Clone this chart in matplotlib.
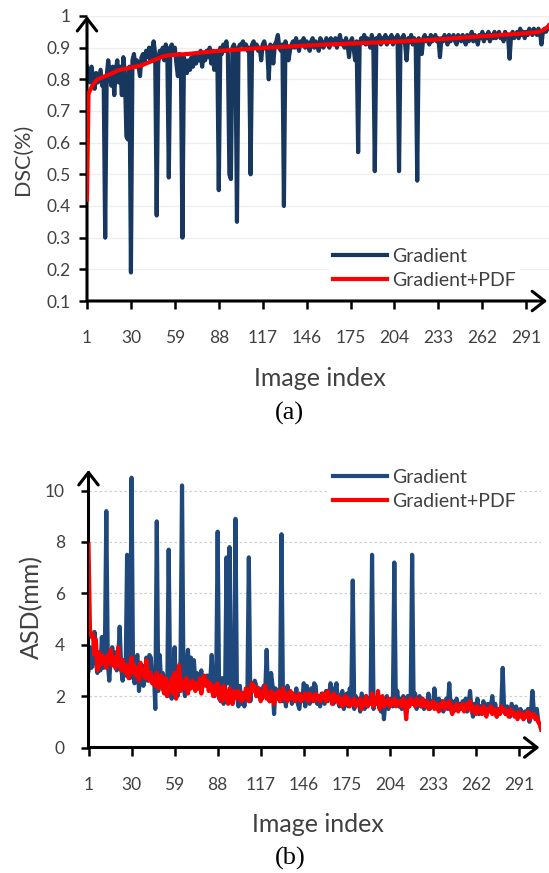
import numpy as np
import matplotlib
matplotlib.use("Agg")
import matplotlib.pyplot as plt

plt.rcParams['font.family'] = ['Lato', 'DejaVu Sans']

# x tick labels shared by both panels
x_ticks = [1, 30, 59, 88, 117, 146, 175, 204, 233, 262, 291]

# (a) DSC per image
dsc_gradient = [
    0.84, 0.82, 0.79, 0.84, 0.80, 0.77, 0.82, 0.79, 0.81, 0.83,
    0.78, 0.80, 0.30, 0.81, 0.86, 0.82, 0.78, 0.84, 0.75, 0.83,
    0.86, 0.79, 0.84, 0.75, 0.87, 0.82, 0.62, 0.61, 0.84, 0.19,
    0.86, 0.88, 0.84, 0.86, 0.84, 0.81, 0.87, 0.88, 0.85, 0.89,
    0.87, 0.90, 0.86, 0.89, 0.92, 0.88, 0.37, 0.85, 0.89, 0.88,
    0.90, 0.86, 0.91, 0.89, 0.49, 0.90, 0.91, 0.88, 0.90, 0.85,
    0.81, 0.88, 0.84, 0.30, 0.87, 0.85, 0.82, 0.86, 0.83, 0.87,
    0.84, 0.88, 0.85, 0.87, 0.86, 0.89, 0.84, 0.88, 0.86, 0.89,
    0.87, 0.90, 0.85, 0.89, 0.83, 0.88, 0.89, 0.45, 0.90, 0.88,
    0.91, 0.89, 0.92, 0.88, 0.50, 0.485, 0.90, 0.91, 0.89, 0.35,
    0.90, 0.91, 0.91, 0.92, 0.90, 0.91, 0.89, 0.90, 0.50, 0.91,
    0.92, 0.90, 0.91, 0.89, 0.90, 0.86, 0.91, 0.92, 0.90, 0.89,
    0.80, 0.91, 0.90, 0.85, 0.91, 0.92, 0.94, 0.90, 0.89, 0.91,
    0.40, 0.92, 0.90, 0.86, 0.89, 0.91, 0.92, 0.90, 0.93, 0.91,
    0.89, 0.92, 0.91, 0.93, 0.90, 0.92, 0.91, 0.89, 0.92, 0.93,
    0.90, 0.92, 0.91, 0.89, 0.93, 0.92, 0.90, 0.91, 0.93, 0.92,
    0.90, 0.93, 0.92, 0.91, 0.93, 0.90, 0.92, 0.94, 0.91, 0.92,
    0.90, 0.93, 0.91, 0.87, 0.92, 0.93, 0.90, 0.86, 0.92, 0.57,
    0.91, 0.93, 0.92, 0.94, 0.91, 0.93, 0.92, 0.90, 0.94, 0.92,
    0.51, 0.93, 0.92, 0.94, 0.91, 0.93, 0.92, 0.94, 0.91, 0.93,
    0.92, 0.94, 0.91, 0.93, 0.92, 0.94, 0.51, 0.93, 0.92, 0.94,
    0.91, 0.86, 0.93, 0.92, 0.94, 0.91, 0.93, 0.92, 0.48, 0.93,
    0.92, 0.88, 0.93, 0.94, 0.92, 0.93, 0.91, 0.94, 0.92, 0.93,
    0.94, 0.92, 0.93, 0.87, 0.93, 0.92, 0.94, 0.93, 0.91, 0.94,
    0.92, 0.93, 0.94, 0.92, 0.91, 0.94, 0.93, 0.92, 0.94, 0.93,
    0.91, 0.94, 0.92, 0.93, 0.95, 0.92, 0.94, 0.93, 0.91, 0.94,
    0.93, 0.95, 0.92, 0.94, 0.93, 0.95, 0.92, 0.94, 0.93, 0.95,
    0.93, 0.94, 0.95, 0.93, 0.94, 0.92, 0.95, 0.94, 0.93, 0.865,
    0.94, 0.95, 0.93, 0.94, 0.95, 0.93, 0.96, 0.94, 0.95, 0.93,
    0.95, 0.94, 0.96, 0.95, 0.94, 0.96, 0.95, 0.94, 0.96, 0.95,
    0.91, 0.95, 0.96, 0.95, 0.96, 0.97,
]
dsc_gradient_pdf = [
    0.42, 0.755, 0.765, 0.775, 0.783, 0.79, 0.795, 0.80, 0.802, 0.804,
    0.806, 0.808, 0.81, 0.812, 0.814, 0.816, 0.818, 0.82, 0.822, 0.825,
    0.827, 0.829, 0.83, 0.831, 0.832, 0.833, 0.834, 0.835, 0.836, 0.837,
    0.838, 0.839, 0.84, 0.841, 0.842, 0.843, 0.844, 0.846, 0.848, 0.85,
    0.852, 0.854, 0.856, 0.858, 0.86, 0.862, 0.864, 0.866, 0.868, 0.87,
    0.872, 0.873, 0.874, 0.875, 0.876, 0.876, 0.877, 0.877, 0.877, 0.878,
    0.878, 0.878, 0.879, 0.879, 0.879, 0.88, 0.88, 0.88, 0.881, 0.881,
    0.882, 0.882, 0.883, 0.883, 0.884, 0.884, 0.885, 0.885, 0.886, 0.886,
    0.887, 0.887, 0.888, 0.888, 0.889, 0.889, 0.889, 0.89, 0.89, 0.89,
    0.891, 0.891, 0.891, 0.892, 0.892, 0.892, 0.893, 0.893, 0.893, 0.894,
    0.894, 0.894, 0.895, 0.895, 0.895, 0.896, 0.896, 0.896, 0.897, 0.897,
    0.897, 0.898, 0.898, 0.898, 0.899, 0.899, 0.899, 0.90, 0.90, 0.90,
    0.90, 0.901, 0.901, 0.901, 0.901, 0.902, 0.902, 0.902, 0.902, 0.903,
    0.903, 0.903, 0.903, 0.904, 0.904, 0.904, 0.904, 0.905, 0.905, 0.905,
    0.905, 0.906, 0.906, 0.906, 0.906, 0.907, 0.907, 0.907, 0.907, 0.908,
    0.908, 0.908, 0.908, 0.909, 0.909, 0.909, 0.909, 0.91, 0.91, 0.91,
    0.91, 0.91, 0.911, 0.911, 0.911, 0.911, 0.911, 0.912, 0.912, 0.912,
    0.912, 0.912, 0.913, 0.913, 0.913, 0.913, 0.913, 0.914, 0.914, 0.914,
    0.914, 0.914, 0.915, 0.915, 0.915, 0.915, 0.915, 0.916, 0.916, 0.916,
    0.916, 0.916, 0.917, 0.917, 0.917, 0.917, 0.917, 0.918, 0.918, 0.918,
    0.918, 0.918, 0.919, 0.919, 0.919, 0.919, 0.92, 0.92, 0.92, 0.92,
    0.92, 0.921, 0.921, 0.921, 0.921, 0.922, 0.922, 0.922, 0.922, 0.923,
    0.923, 0.923, 0.923, 0.924, 0.924, 0.924, 0.924, 0.925, 0.925, 0.925,
    0.926, 0.926, 0.926, 0.927, 0.927, 0.927, 0.928, 0.928, 0.928, 0.929,
    0.929, 0.929, 0.93, 0.93, 0.93, 0.931, 0.931, 0.931, 0.932, 0.932,
    0.932, 0.933, 0.933, 0.933, 0.934, 0.934, 0.934, 0.935, 0.935, 0.935,
    0.936, 0.936, 0.936, 0.937, 0.937, 0.937, 0.938, 0.938, 0.938, 0.939,
    0.939, 0.939, 0.94, 0.94, 0.94, 0.941, 0.941, 0.941, 0.942, 0.942,
    0.942, 0.943, 0.943, 0.943, 0.944, 0.944, 0.944, 0.945, 0.945, 0.945,
    0.946, 0.946, 0.947, 0.947, 0.948, 0.948, 0.949, 0.95, 0.95, 0.951,
    0.953, 0.955, 0.958, 0.961, 0.965, 0.97,
]

# (b) ASD per image
asd_gradient = [
    3.0, 3.9, 3.1, 3.4, 4.5, 3.3, 2.9, 3.7, 3.0, 4.3,
    3.1, 3.5, 9.2, 3.3, 2.6, 3.5, 3.9, 3.2, 3.7, 3.0,
    3.4, 4.7, 3.1, 2.6, 3.4, 2.8, 7.5, 3.2, 2.7, 10.5,
    3.1, 2.5, 3.5, 3.6, 2.2, 2.9, 3.2, 2.4, 2.7, 3.5,
    2.6, 3.6, 3.5, 2.5, 3.0, 1.5, 8.8, 2.2, 3.6, 2.4,
    2.9, 2.6, 2.2, 2.0, 7.7, 2.5, 1.9, 2.8, 3.9, 2.2,
    2.0, 2.7, 3.4, 10.2, 2.4, 2.0, 3.2, 3.8, 2.3, 3.5,
    2.6, 3.4, 2.5, 2.9, 2.3, 2.7, 3.0, 2.4, 2.6, 2.5,
    2.8, 2.4, 2.6, 3.6, 2.3, 2.0, 2.4, 8.4, 2.0, 1.8,
    2.7, 1.7, 2.2, 7.4, 2.5, 7.8, 1.9, 1.7, 2.3, 8.9,
    2.0, 1.6, 2.4, 1.7, 2.1, 1.6, 2.2, 2.0, 7.4, 1.8,
    2.5, 2.2, 2.6, 2.4, 2.0, 2.3, 2.2, 1.9, 2.4, 2.1,
    3.8, 2.0, 1.8, 2.9, 2.4, 1.3, 2.3, 1.9, 2.1, 1.8,
    8.3, 1.8, 2.2, 1.6, 2.4, 1.9, 2.1, 1.7, 2.0, 1.9,
    2.3, 1.7, 1.5, 2.0, 1.8, 2.5, 1.6, 2.4, 2.0, 1.7,
    2.3, 1.8, 2.5, 2.4, 1.7, 2.0, 1.6, 2.1, 1.9, 1.7,
    2.2, 1.8, 2.0, 2.5, 2.3, 1.7, 2.0, 2.5, 1.8, 1.6,
    2.0, 2.2, 1.5, 1.9, 2.1, 1.6, 2.3, 1.8, 6.5, 1.5,
    2.0, 1.7, 1.9, 1.4, 2.1, 1.8, 1.5, 2.0, 1.6, 1.9,
    1.7, 7.5, 1.5, 1.9, 1.7, 2.0, 1.6, 1.4, 1.9, 1.1,
    1.8, 2.0, 1.5, 1.7, 1.9, 1.6, 7.2, 1.8, 2.2, 1.6,
    1.9, 1.5, 2.0, 1.7, 1.4, 2.0, 1.6, 1.8, 7.5, 1.7,
    2.1, 1.5, 1.8, 2.0, 1.6, 1.9, 1.5, 1.8, 1.7, 2.1,
    1.5, 1.8, 1.6, 2.3, 1.7, 1.5, 1.9, 1.6, 1.8, 1.4,
    1.7, 1.9, 1.5, 2.5, 1.6, 1.8, 1.4, 1.7, 1.9, 1.5,
    1.7, 1.5, 1.8, 1.6, 1.9, 1.4, 1.7, 2.2, 1.5, 1.2,
    1.7, 1.5, 1.9, 1.3, 1.6, 1.4, 1.8, 1.5, 1.3, 1.7,
    1.5, 1.6, 2.0, 1.4, 1.7, 1.2, 1.5, 1.3, 1.6, 3.1,
    1.4, 1.3, 1.6, 1.4, 1.2, 1.7, 1.5, 1.3, 1.6, 1.4,
    1.2, 1.5, 1.3, 1.1, 1.4, 1.2, 1.5, 1.0, 1.3, 2.2,
    1.4, 1.2, 1.5, 1.0, 0.9, 0.7,
]
asd_gradient_pdf = [
    7.9, 4.6, 4.3, 4.4, 3.6, 4.2, 3.0, 3.7, 3.2, 3.6,
    3.3, 3.5, 3.1, 3.6, 3.3, 3.8, 3.2, 3.5, 3.1, 3.4,
    3.9, 3.3, 3.0, 3.4, 3.1, 2.9, 3.2, 2.7, 3.0, 3.5,
    2.9, 3.2, 2.8, 3.1, 2.6, 3.3, 2.9, 3.0, 2.7, 3.4,
    2.8, 2.6, 2.9, 2.5, 2.7, 2.4, 2.9, 2.3, 2.6, 2.8,
    2.3, 2.1, 2.7, 2.0, 2.5, 2.2, 2.7, 2.1, 2.9, 1.9,
    2.6, 3.2, 2.2, 2.6, 2.4, 2.3, 2.7, 2.1, 2.5, 2.3,
    2.6, 2.4, 2.2, 2.5, 2.3, 2.7, 2.1, 2.5, 2.8, 2.4,
    2.6, 2.2, 2.5, 2.3, 2.0, 2.4, 2.1, 2.5, 1.9, 2.3,
    1.8, 2.4, 1.9, 2.2, 1.7, 2.3, 2.0, 1.7, 2.2, 2.0,
    1.9, 2.2, 2.0, 1.8, 2.1, 1.9, 2.3, 2.1, 1.8, 2.2,
    2.5, 2.2, 2.4, 2.0, 2.3, 2.1, 1.8, 2.2, 2.0, 2.4,
    1.9, 2.1, 1.8, 2.2, 2.0, 1.7, 2.1, 1.9, 2.2, 1.8,
    2.0, 2.3, 1.9, 2.1, 1.8, 2.0, 2.2, 1.9, 2.1, 1.8,
    2.0, 1.9, 2.1, 1.8, 2.0, 1.9, 2.1, 2.0, 1.8, 2.1,
    1.9, 2.0, 1.8, 2.1, 1.9, 2.0, 1.8, 2.0, 2.1, 1.9,
    1.8, 2.2, 1.9, 2.0, 1.7, 2.1, 1.9, 1.8, 2.0, 1.7,
    1.9, 1.6, 1.8, 2.0, 1.7, 1.9, 1.6, 1.8, 1.7, 1.9,
    1.6, 1.8, 1.7, 1.9, 1.5, 1.8, 1.7, 2.0, 1.6, 1.8,
    1.7, 2.1, 1.6, 1.9, 1.7, 2.2, 1.5, 1.8, 2.0, 1.6,
    1.8, 1.7, 1.9, 1.6, 1.8, 1.7, 1.9, 1.6, 1.8, 1.7,
    1.8, 1.6, 1.9, 1.7, 1.1, 1.8, 1.6, 1.9, 1.7, 1.8,
    1.6, 1.9, 1.7, 1.8, 1.6, 1.9, 1.7, 1.6, 1.8, 1.5,
    1.7, 1.6, 1.8, 1.5, 1.7, 1.6, 1.4, 1.7, 1.6, 1.8,
    1.5, 1.7, 1.6, 1.8, 1.5, 1.3, 1.6, 1.5, 1.7, 1.4,
    1.6, 1.5, 1.7, 1.4, 1.6, 1.7, 1.5, 1.8, 1.4, 1.6,
    1.5, 1.3, 1.6, 1.4, 1.5, 1.3, 1.6, 1.4, 1.2, 1.5,
    1.4, 1.6, 1.3, 1.5, 1.4, 1.2, 1.5, 1.3, 1.6, 1.4,
    1.5, 1.3, 1.4, 1.2, 1.5, 1.3, 1.4, 1.2, 1.3, 1.1,
    1.4, 1.2, 1.3, 1.1, 1.3, 1.2, 1.4, 1.1, 1.3, 1.2,
    1.3, 1.1, 1.2, 1.0, 0.9, 0.7,
]

W, H = 549, 873
fig = plt.figure(figsize=(W / 100, H / 100), dpi=100)
TXT = '#404040'


def px_axes(left, top, right, bottom):
    return fig.add_axes([left / W, 1 - bottom / H, (right - left) / W, (bottom - top) / H])


def style_axes(ax, grid_ls, grid_color, ypad):
    for s in ax.spines.values():
        s.set_visible(False)
    ax.set_xlim(1, 306)
    ax.set_xticks(x_ticks)
    ax.tick_params(axis='both', direction='out', length=6, width=1.8,
                   color='black', labelcolor=TXT)
    ax.tick_params(axis='y', pad=ypad, labelsize=12.5)
    ax.tick_params(axis='x', pad=15, labelsize=12.5)
    ax.grid(axis='y', color=grid_color, lw=0.9, ls=grid_ls, zorder=0)
    ax.set_axisbelow(True)
    arrow = dict(arrowstyle='->,head_length=0.45,head_width=0.35', lw=2.2,
                 color='black', mutation_scale=20, shrinkA=0, shrinkB=0)
    ax.annotate('', xy=(0.996, 0), xytext=(0, 0), xycoords='axes fraction',
                arrowprops=arrow, annotation_clip=False)
    ax.annotate('', xy=(0, 1.0), xytext=(0, 0), xycoords='axes fraction',
                arrowprops=arrow, annotation_clip=False)


def add_legend(ax, top_px):
    leg = ax.legend(loc='upper left', bbox_to_anchor=(329 / W, 1 - top_px / H),
                    bbox_transform=fig.transFigure, frameon=True, fontsize=14,
                    handlelength=2.8, handletextpad=0.25, labelspacing=0.38,
                    borderpad=0.2, borderaxespad=0)
    leg.get_frame().set_edgecolor('none')
    leg.get_frame().set_facecolor('white')
    leg.get_frame().set_alpha(1)
    for t in leg.get_texts():
        t.set_color(TXT)


# ---- (a) ----
ax1 = px_axes(87, 16, 549, 301)
x1 = np.arange(1, len(dsc_gradient) + 1)
x1p = np.arange(1, len(dsc_gradient_pdf) + 1)
ax1.plot(x1, dsc_gradient, color='#17375E', lw=3.0, label='Gradient', zorder=3)
ax1.plot(x1p, dsc_gradient_pdf, color='#FF0000', lw=3.0, label='Gradient+PDF', zorder=4)
ax1.set_ylim(0.1, 1.0)
ax1.set_yticks(np.arange(0.1, 1.01, 0.1))
ax1.set_yticklabels(['0.1', '0.2', '0.3', '0.4', '0.5', '0.6', '0.7', '0.8', '0.9', '1'])
style_axes(ax1, '-', '#eeeeee', 6)
add_legend(ax1, 244)

fig.text(22.5 / W, 1 - 159 / H, 'DSC(%)', rotation=90, ha='center', va='center',
         fontsize=15.5, color=TXT)
fig.text(320 / W, 1 - 378 / H, 'Image index', ha='center', va='center',
         fontsize=18, color=TXT)
fig.text(289.5 / W, 1 - 413 / H, '(a)', ha='center', va='center', fontsize=19,
         family=['Liberation Serif', 'DejaVu Serif'], color='black')

# ---- (b) ----
ax2 = px_axes(88.5, 470, 541.3, 747.5)
x2 = np.arange(1, len(asd_gradient) + 1)
x2p = np.arange(1, len(asd_gradient_pdf) + 1)
ax2.plot(x2, asd_gradient, color='#1F497D', lw=3.0, label='Gradient', zorder=3)
ax2.plot(x2p, asd_gradient_pdf, color='#FF0000', lw=3.0, label='Gradient+PDF', zorder=4)
ax2.set_ylim(0, 10.8)
ax2.set_yticks([0, 2, 4, 6, 8, 10])
style_axes(ax2, (0, (2, 2)), '#d0d0d0', 11)
add_legend(ax2, 465)

fig.text(31.5 / W, 1 - 607 / H, 'ASD(mm)', rotation=90, ha='center', va='center',
         fontsize=18, color=TXT)
fig.text(318 / W, 1 - 825 / H, 'Image index', ha='center', va='center',
         fontsize=18, color=TXT)
fig.text(290 / W, 1 - 858 / H, '(b)', ha='center', va='center', fontsize=19,
         family=['Liberation Serif', 'DejaVu Serif'], color='black')

fig.savefig('out.png', dpi=100)
